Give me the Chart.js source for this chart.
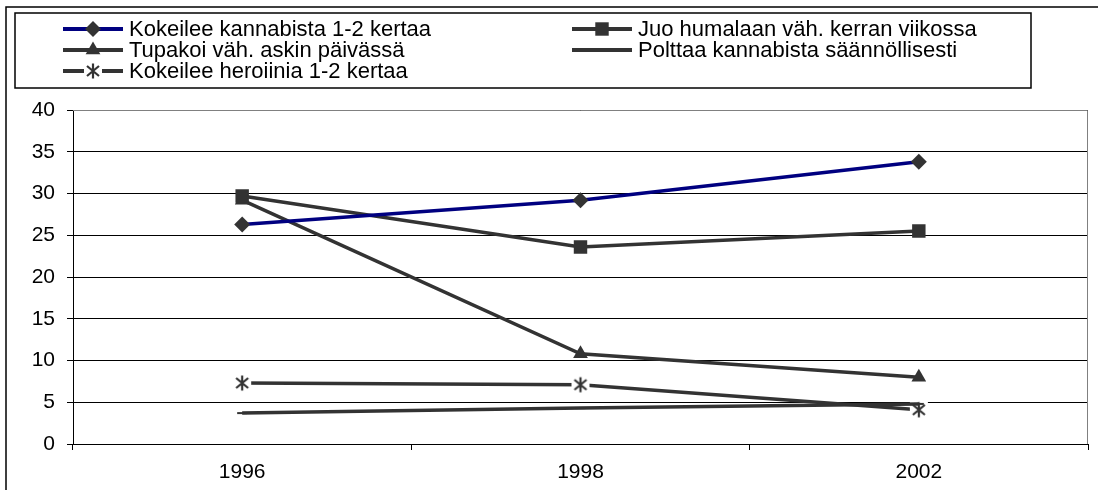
<!DOCTYPE html>
<html>
<head>
<meta charset="utf-8">
<script src="https://cdn.jsdelivr.net/npm/chart.js@4.4.0/dist/chart.umd.min.js"></script>
<style>
  html, body { margin: 0; padding: 0; background: #fff; }
</style>
</head>
<body>
<canvas id="kaavio" width="1098" height="490"></canvas>
<script>
// vuodet ja sarjat (%)
const vuodet = ['1996', '1998', '2002'];
const kannabisKokeilu = [26.3, 29.2, 33.8];
const humala = [29.7, 23.6, 25.5];
const tupakka = [29.2, 10.8, 8.0];
const kannabisSaannollinen = [3.7, 4.3, 4.8];
const heroiini = [7.3, 7.1, 4.1];
const yTicks = [0, 5, 10, 15, 20, 25, 30, 35, 40];

const tumma = '#333333';
const sininen = '#000080';
const fontti = '"Liberation Sans", Arial, sans-serif';

// tähtimerkki valkoisella pohjalla (pystyviiva + risti)
function tahti() {
    const c = document.createElement('canvas');
    c.width = 20; c.height = 20;
    const g = c.getContext('2d');
    g.fillStyle = '#fff';
    g.fillRect(1, 1, 18, 18);
    g.strokeStyle = tumma;
    g.lineWidth = 2.2;
    g.beginPath();
    g.moveTo(10, 2.5); g.lineTo(10, 17.5);
    g.moveTo(4, 5); g.lineTo(16, 15);
    g.moveTo(16, 5); g.lineTo(4, 15);
    g.stroke();
    return c;
}
const tahtiKuva = tahti();

function sarja(nimi, arvot, vari, tyyli, koko) {
    return {
        label: nimi,
        data: arvot,
        borderColor: vari,
        backgroundColor: tumma,
        borderWidth: 3.5,
        pointStyle: tyyli,
        pointRadius: koko,
        pointBorderColor: tumma,
        pointBackgroundColor: tumma,
        pointBorderWidth: tyyli == 'line' ? 2 : 0,
        tension: 0,
        fill: false
    };
}

// oma selite kahdessa sarakkeessa + kehykset
const kehys = {
    id: 'kehys',
    afterDraw(chart) {
        const ctx = chart.ctx;
        const ca = chart.chartArea;
        ctx.save();
        // ulkokehys
        ctx.strokeStyle = '#000';
        ctx.lineWidth = 1.5;
        ctx.beginPath();
        ctx.moveTo(6, 490);
        ctx.lineTo(6, 7);
        ctx.lineTo(1098, 7);
        ctx.stroke();
        // piirtoalueen reunat ylä/oikea
        ctx.strokeStyle = '#808080';
        ctx.lineWidth = 1;
        ctx.beginPath();
        ctx.moveTo(ca.left, ca.top + 0.5);
        ctx.lineTo(ca.right - 0.5, ca.top + 0.5);
        ctx.lineTo(ca.right - 0.5, ca.bottom);
        ctx.stroke();
        // selitelaatikko
        ctx.fillStyle = '#fff';
        ctx.fillRect(15, 13, 1016, 75);
        ctx.strokeStyle = '#000';
        ctx.lineWidth = 1.5;
        ctx.strokeRect(15, 13, 1016, 75);

        const paikat = [[63, 29], [572, 29], [63, 50], [572, 50], [63, 71]];
        ctx.font = '22px ' + fontti;
        ctx.textBaseline = 'middle';
        chart.data.datasets.forEach(function(ds, i) {
            const x = paikat[i][0], y = paikat[i][1];
            ctx.strokeStyle = ds.borderColor;
            ctx.lineWidth = 4;
            ctx.beginPath();
            ctx.moveTo(x, y); ctx.lineTo(x + 60, y);
            ctx.stroke();
            if (ds.pointStyle instanceof HTMLCanvasElement) {
                ctx.drawImage(ds.pointStyle, x + 30 - 10, y - 10);
            } else {
                ctx.fillStyle = tumma;
                ctx.strokeStyle = tumma;
                ctx.lineWidth = ds.pointBorderWidth;
                Chart.helpers.drawPoint(ctx, {
                    pointStyle: ds.pointStyle,
                    radius: ds.pointRadius,
                    rotation: 0,
                    borderWidth: ds.pointBorderWidth
                }, x + 30, y);
            }
            ctx.fillStyle = '#000';
            ctx.fillText(ds.label, x + 66, y + 1);
        });
        ctx.restore();
    }
};

document.addEventListener("DOMContentLoaded", function() {
    var ctx = document.getElementById("kaavio").getContext('2d');
    var kaavio = new Chart(ctx, {
        type: 'line',
        data: {
            labels: vuodet,
            datasets: [
                sarja('Kokeilee kannabista 1-2 kertaa', kannabisKokeilu, sininen, 'rectRot', 8),
                sarja('Juo humalaan väh. kerran viikossa', humala, tumma, 'rect', 9.5),
                sarja('Tupakoi väh. askin päivässä', tupakka, tumma, 'triangle', 8.5),
                sarja('Polttaa kannabista säännöllisesti', kannabisSaannollinen, tumma, 'line', 5),
                sarja('Kokeilee heroiinia 1-2 kertaa', heroiini, tumma, tahtiKuva, 10)
            ]
        },
        options: {
            responsive: false,
            animation: false,
            layout: { padding: { top: 110, right: 8, left: 0, bottom: 0 } },
            plugins: {
                legend: { display: false },
                tooltip: { enabled: false }
            },
            scales: {
                x: {
                    offset: true,
                    grid: {
                        offset: true,
                        drawOnChartArea: false,
                        drawTicks: true,
                        tickLength: 6,
                        color: '#000'
                    },
                    border: { color: '#000', width: 1 },
                    ticks: {
                        color: '#000',
                        padding: 10,
                        font: { family: fontti, size: 21 }
                    },
                    afterFit(s) { s.height = 46; }
                },
                y: {
                    min: 0,
                    max: 40,
                    afterBuildTicks(s) { s.ticks = yTicks.map(v => ({ value: v })); },
                    grid: {
                        color: '#000',
                        lineWidth: 1,
                        tickLength: 6
                    },
                    border: { color: '#000', width: 1 },
                    ticks: {
                        color: '#000',
                        padding: 12,
                        font: { family: fontti, size: 21 }
                    },
                    afterFit(s) { s.width = 73; }
                }
            }
        },
        plugins: [kehys]
    });
});
</script>
</body>
</html>
